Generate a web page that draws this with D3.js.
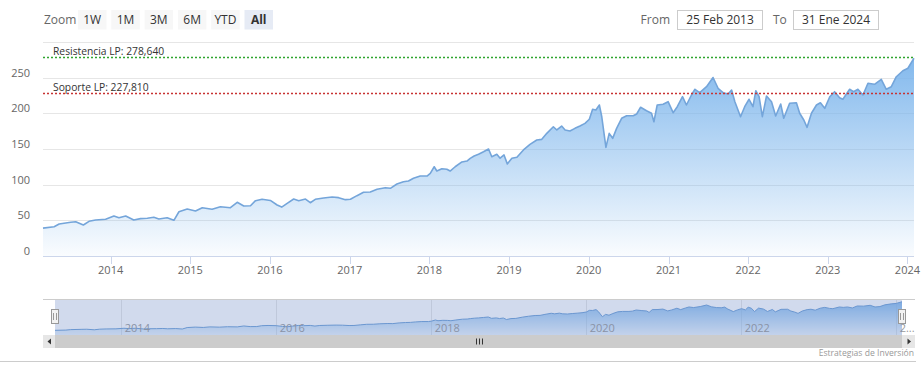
<!DOCTYPE html>
<html><head><meta charset="utf-8">
<script src="https://cdn.jsdelivr.net/npm/d3@7"></script>
<style>
body{margin:0;background:#fff;}
svg{display:block;font-family:"Open Sans",sans-serif;}
</style></head>
<body><svg id="c" width="923" height="376"></svg>
<script>
const dates = ["2013-02-25","2013-04-17","2013-05-10","2013-07-02","2013-07-25","2013-08-29","2013-09-24","2013-10-24","2013-12-09",
"2014-01-16","2014-02-08","2014-03-11","2014-04-17","2014-05-18","2014-06-18","2014-07-18","2014-08-10","2014-09-17","2014-10-18","2014-11-10","2014-12-18",
"2015-01-25","2015-02-25","2015-04-11","2015-05-19","2015-07-04","2015-08-04","2015-09-03","2015-10-04","2015-10-27","2015-11-26",
"2016-01-03","2016-02-03","2016-02-24","2016-03-20","2016-04-19","2016-05-12","2016-06-12","2016-07-04","2016-07-27","2016-09-03","2016-10-12","2016-11-11","2016-12-12",
"2017-01-04","2017-02-03","2017-03-05","2017-04-05","2017-05-06","2017-06-13","2017-07-06","2017-08-05","2017-09-04","2017-09-27","2017-10-20","2017-11-20","2017-12-21",
"2018-01-05","2018-01-23","2018-02-04","2018-02-27","2018-03-22","2018-04-06","2018-04-29","2018-05-30","2018-06-22","2018-07-07","2018-07-25","2018-08-14","2018-09-06","2018-09-29","2018-10-14","2018-11-06","2018-11-21","2018-12-09","2018-12-24",
"2019-01-14","2019-02-06","2019-03-08","2019-04-07","2019-05-08","2019-05-31","2019-06-23","2019-07-23","2019-08-08","2019-08-30","2019-09-15","2019-10-07","2019-10-30","2019-11-22","2019-12-15",
"2020-01-04","2020-01-19","2020-02-03","2020-02-19","2020-03-01","2020-03-20","2020-04-04","2020-04-20","2020-05-08","2020-05-31","2020-06-23","2020-07-23","2020-08-08","2020-08-26","2020-09-22","2020-10-15","2020-10-26","2020-11-10","2020-12-07","2020-12-30",
"2021-01-22","2021-02-10","2021-03-06","2021-03-24","2021-04-16","2021-05-02","2021-05-24","2021-06-24","2021-07-24","2021-08-16","2021-09-08","2021-10-01","2021-10-17","2021-11-01","2021-11-27","2021-12-16",
"2022-01-05","2022-01-23","2022-02-05","2022-02-20","2022-03-07","2022-03-26","2022-04-18","2022-05-07","2022-05-30","2022-06-13","2022-07-10","2022-08-10","2022-08-25","2022-09-13","2022-09-28","2022-10-18","2022-11-10","2022-11-28","2022-12-18",
"2023-01-10","2023-02-01","2023-02-24","2023-03-11","2023-04-11","2023-04-29","2023-05-19","2023-06-11","2023-07-04","2023-08-03","2023-09-03","2023-09-26","2023-10-19","2023-11-11","2023-12-11",
"2024-01-03","2024-01-31"];
const values = [39,41,44.8,47.2,48,43.4,48.6,50.4,51.4,
56,53.6,56,50.4,52.3,52.8,54.2,51.8,53.6,50,62,65.8,
63,67.6,65.4,69,67.6,75.2,70,70.4,77.5,79.4,
77.8,71.4,68.5,73.8,79.8,77.5,79.8,74.6,79.4,81.2,82.6,81.7,78.9,
79.4,84.5,89.2,89.6,93.4,95.7,94.8,100.8,104,105,108.8,112,112,
115.8,125,119,122.3,121.4,119,125,131.7,133,136.8,140,142.4,146,149.9,139,142.4,137,141.5,129,
136.8,138.2,148.5,156.4,162.5,163.4,171.8,181,176.5,182,176.5,175,178.8,182,185.8,
191.5,205.5,204.5,211.5,195,152.2,171.8,164.8,178.8,192.9,196.5,196.5,198.9,208.3,203.5,199.9,188,211.5,212.5,216.1,
200.7,209.1,223.1,211.5,225.5,233.5,228.7,237.1,250,234.9,228.7,226.9,232.5,216.1,195.1,209.1,
219.5,209.1,231.5,223.1,195.1,224.1,216.1,196.1,212.9,192.9,213.9,214.7,199.9,190.5,180.2,199.9,211.5,214.7,206.8,
223.1,230.1,221.7,219.5,233.5,230.1,233.5,225.5,241.9,240.5,247.5,233.5,237.1,251.1,259.5,
262.9,277];
const yTicks = [0,50,100,150,200,250,300];
const yLabels = [0,50,100,150,200,250];
const xTickYears = [2014,2015,2016,2017,2018,2019,2020,2021,2022,2023,2024];
const navTickYears = [2014,2016,2018,2020,2022,2024];
const rangeButtons = ["1W","1M","3M","6M","YTD","All"];
const plotLines = [{label:"Resistencia LP: 278,640", value:278.64, color:"#2fa52f"},
                   {label:"Soporte LP: 227,810", value:227.81, color:"#c83232"}];
const fromText = "25 Feb 2013", toText = "31 Ene 2024";
const credit = "Estrategias de Inversión";

const parse = d3.timeParse("%Y-%m-%d");
const data = dates.map((d,i)=>({t:parse(d), v:values[i]}));
const svg = d3.select("#c");
const L=43, R=914, T=41.8, B=256;
const x = d3.scaleTime().domain([parse("2013-02-25"), parse("2024-01-31")]).range([L,R]);
const y = d3.scaleLinear().domain([0,300]).range([B,T]);

const defs = svg.append("defs");
const g1 = defs.append("linearGradient").attr("id","gr").attr("x1",0).attr("y1",0).attr("x2",0).attr("y2",1);
g1.append("stop").attr("offset",0).attr("stop-color","#7cb5ec").attr("stop-opacity",0.95);
g1.append("stop").attr("offset",1).attr("stop-color","#7cb5ec").attr("stop-opacity",0.04);

// range selector
svg.append("text").attr("x",44).attr("y",24).attr("font-size",12).attr("fill","#666").text("Zoom");
rangeButtons.forEach((b,i)=>{
  const bx = 78 + i*33.3;
  svg.append("rect").attr("x",bx).attr("y",10).attr("width",28.5).attr("height",19.5)
    .attr("fill", b==="All" ? "#e6ebf5" : "#f7f7f7");
  svg.append("text").attr("x",bx+14.2).attr("y",24).attr("text-anchor","middle").attr("font-size",12)
    .attr("fill", "#333").attr("font-weight", b==="All"?"bold":"normal").text(b);
});
svg.append("text").attr("x",670).attr("y",24).attr("text-anchor","end").attr("font-size",12).attr("fill","#666").text("From");
svg.append("rect").attr("x",677.5).attr("y",10.5).attr("width",85).attr("height",19).attr("fill","#fff").attr("stroke","#ccc");
svg.append("text").attr("x",720).attr("y",24).attr("text-anchor","middle").attr("font-size",12).attr("fill","#333").text(fromText);
svg.append("text").attr("x",773).attr("y",24).attr("font-size",12).attr("fill","#666").text("To");
svg.append("rect").attr("x",793.5).attr("y",10.5).attr("width",85).attr("height",19).attr("fill","#fff").attr("stroke","#ccc");
svg.append("text").attr("x",836).attr("y",24).attr("text-anchor","middle").attr("font-size",12).attr("fill","#333").text(toText);

// gridlines
svg.append("g").selectAll("line").data(yTicks.filter(d=>d>0)).join("line")
  .attr("x1",L).attr("x2",R).attr("y1",d=>Math.round(y(d))+0.5).attr("y2",d=>Math.round(y(d))+0.5)
  .attr("stroke","#e6e6e6");
svg.append("g").selectAll("text").data(yLabels).join("text")
  .attr("x",30).attr("y",d=>y(d)-1).attr("text-anchor","end").attr("font-size",11).attr("fill","#666").text(d=>d);

// area
const area = d3.area().x(d=>x(d.t)).y0(B).y1(d=>y(d.v));
const line = d3.line().x(d=>x(d.t)).y(d=>y(d.v));
svg.append("path").datum(data).attr("d",area).attr("fill","url(#gr)");
svg.append("path").datum(data).attr("d",line).attr("fill","none").attr("stroke","#74a5da").attr("stroke-width",1.6).attr("stroke-linejoin","round");

// plot lines
plotLines.forEach(p=>{
  const py = Math.round(y(p.value))+0.5;
  svg.append("line").attr("x1",L).attr("x2",R).attr("y1",py).attr("y2",py)
    .attr("stroke",p.color).attr("stroke-width",1.3).attr("stroke-dasharray","2,2");
  svg.append("text").attr("x",53).attr("y",py-3).attr("font-size",10.3).attr("fill","#333").text(p.label);
});

// x axis
svg.append("line").attr("x1",L).attr("x2",R).attr("y1",B+0.5).attr("y2",B+0.5).attr("stroke","#ccd6eb");
const xt = xTickYears.map(yr=>new Date(yr,0,1));
svg.append("g").selectAll("line").data(xt).join("line")
  .attr("x1",d=>Math.round(x(d))+0.5).attr("x2",d=>Math.round(x(d))+0.5).attr("y1",B).attr("y2",B+8).attr("stroke","#ccd6eb");
svg.append("g").selectAll("text").data(xt).join("text")
  .attr("x",d=>x(d)).attr("y",274).attr("text-anchor","middle").attr("font-size",11).attr("fill","#666")
  .text(d=>d.getFullYear());

// navigator
const NT=299, NB=335, NL=55, NR=902;
const nx = d3.scaleTime().domain(x.domain()).range([NL,NR]);
const ny = d3.scaleLinear().domain([0,300]).range([NB,NT]);
const g2 = defs.append("linearGradient").attr("id","gr2").attr("x1",0).attr("y1",0).attr("x2",0).attr("y2",1);
g2.append("stop").attr("offset",0).attr("stop-color","#7cb5ec").attr("stop-opacity",0.9);
g2.append("stop").attr("offset",1).attr("stop-color","#7cb5ec").attr("stop-opacity",0.15);
defs.append("clipPath").attr("id","navclip").append("rect").attr("x",L).attr("y",NT).attr("width",R-L+1).attr("height",NB-NT);
const ng = svg.append("g").attr("clip-path","url(#navclip)");
const nticks = navTickYears.map(yr=>new Date(yr,0,1));
ng.selectAll("line.g").data(nticks).join("line").attr("class","g")
  .attr("x1",d=>Math.round(nx(d))+0.5).attr("x2",d=>Math.round(nx(d))+0.5).attr("y1",NT).attr("y2",NB).attr("stroke","#e6e6e6");
ng.append("path").datum(data).attr("d",d3.area().x(d=>nx(d.t)).y0(NB).y1(d=>ny(d.v))).attr("fill","url(#gr2)");
ng.append("path").datum(data).attr("d",d3.line().x(d=>nx(d.t)).y(d=>ny(d.v))).attr("fill","none").attr("stroke","#6d9fd6").attr("stroke-width",1);
ng.selectAll("text").data(nticks).join("text")
  .attr("x",d=>nx(d)+4).attr("y",332).attr("font-size",11).attr("fill","#999")
  .text(d=>d.getFullYear()===2024 ? "2..." : d.getFullYear());
ng.append("rect").attr("x",NL).attr("y",NT).attr("width",NR-NL).attr("height",NB-NT).attr("fill","rgba(102,133,194,0.3)");
svg.append("line").attr("x1",L).attr("x2",R+1).attr("y1",NT+0.5).attr("y2",NT+0.5).attr("stroke","#cccccc");
// handles
[NL,NR].forEach(hx=>{
  svg.append("rect").attr("x",hx-3.5).attr("y",309.5).attr("width",7).attr("height",14).attr("fill","#f2f2f2").attr("stroke","#999");
  svg.append("line").attr("x1",hx-1.5).attr("x2",hx-1.5).attr("y1",313).attr("y2",320).attr("stroke","#999");
  svg.append("line").attr("x1",hx+1.5).attr("x2",hx+1.5).attr("y1",313).attr("y2",320).attr("stroke","#999");
});
// scrollbar
const SY=335, SH=13;
svg.append("rect").attr("x",L).attr("y",SY).attr("width",R-L+1).attr("height",SH).attr("fill","#f2f2f2");
svg.append("rect").attr("x",NL).attr("y",SY).attr("width",NR-NL).attr("height",SH).attr("fill","#cccccc");
svg.append("rect").attr("x",L).attr("y",SY).attr("width",12).attr("height",SH).attr("fill","#e6e6e6");
svg.append("rect").attr("x",NR).attr("y",SY).attr("width",R+1-NR).attr("height",SH).attr("fill","#e6e6e6");
svg.append("path").attr("d",`M${L+8},${SY+3.5} L${L+8},${SY+9.5} L${L+4.5},${SY+6.5} Z`).attr("fill","#333");
svg.append("path").attr("d",`M${NR+5.5},${SY+3.5} L${NR+5.5},${SY+9.5} L${NR+9},${SY+6.5} Z`).attr("fill","#333");
const mid = (NL+NR)/2;
[-3,0,3].forEach(o=>svg.append("line").attr("x1",Math.round(mid+o)+0.5).attr("x2",Math.round(mid+o)+0.5)
  .attr("y1",SY+3.5).attr("y2",SY+9.5).attr("stroke","#333"));

// bottom line & credit
svg.append("line").attr("x1",0).attr("x2",916).attr("y1",361.5).attr("y2",361.5).attr("stroke","#ccc");
svg.append("text").attr("x",914).attr("y",356).attr("text-anchor","end").attr("font-size",8.6).attr("fill","#999").text(credit);
</script></body></html>
